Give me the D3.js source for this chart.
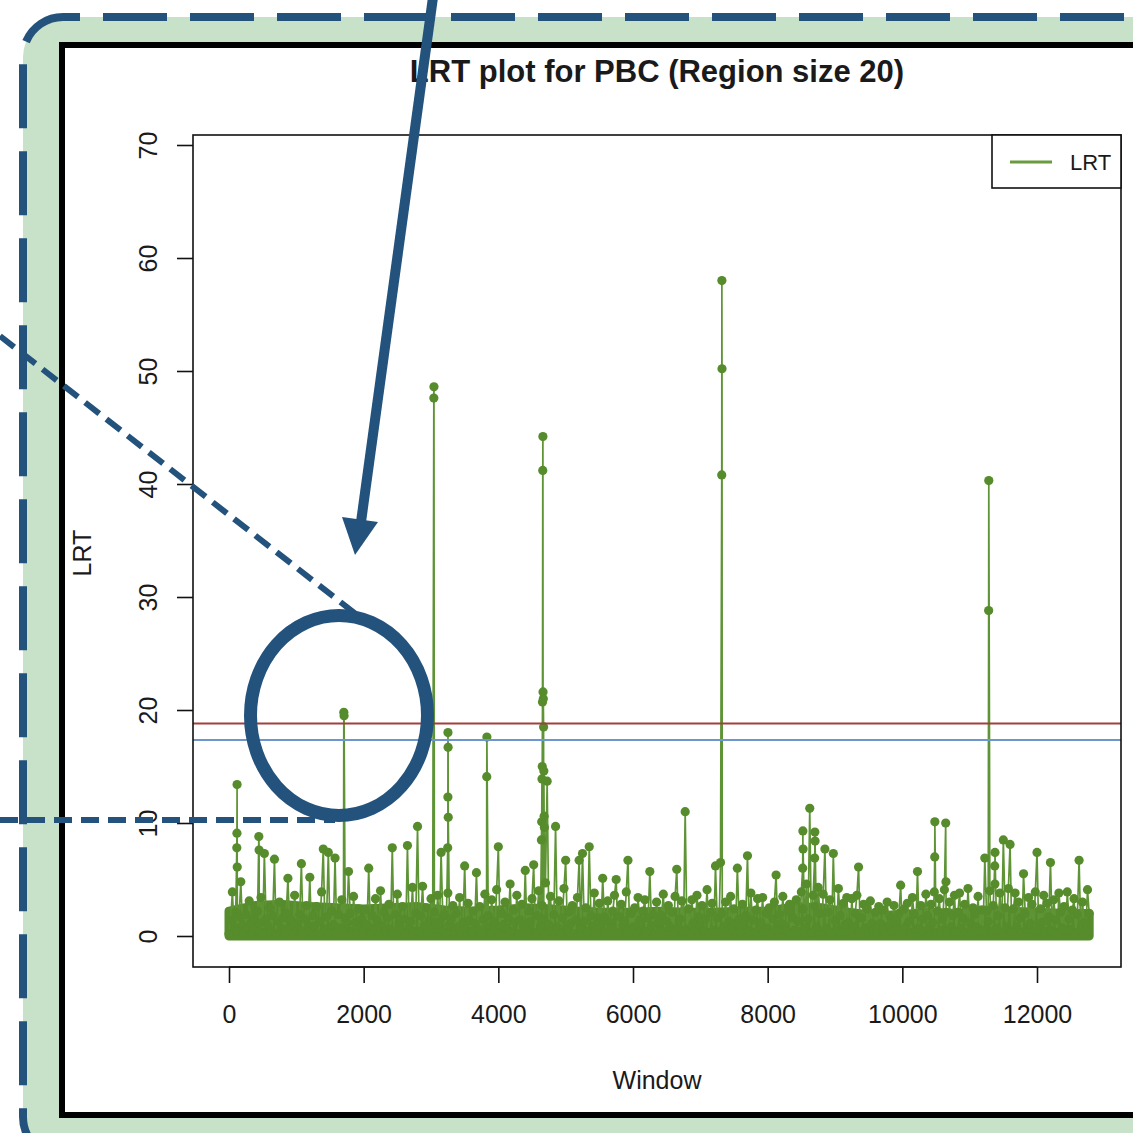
<!DOCTYPE html>
<meta charset="utf-8">
<style>
body { margin: 0; background: #fff; }
text { font-family: "Liberation Sans", Arial, sans-serif; fill: #1a1a1a; }
</style>
<body>
<div id="chart"></div>
<script src="https://d3js.org/d3.v7.min.js"></script>
<script>
// LRT, one value every 25 windows (window 0 .. 12775)
var windowStep = 25;
var lrtValues = [
  0.2, 1.4, 3.9, 0.8, 2.1, 0.5, 1.7, 4.8, 1.0, 0.3, 1.9, 0.7, 3.1, 1.2, 0.4, 1.6,
  0.6, 2.2, 1.1, 3.4, 0.3, 7.3, 1.5, 0.9, 2.5, 0.4, 1.8, 6.8, 0.2, 1.3, 3.0, 0.7,
  1.6, 0.3, 2.0, 5.1, 0.8, 1.4, 0.2, 3.6, 1.1, 0.5, 1.9, 6.4, 0.4, 1.5, 2.7, 0.9,
  5.2, 0.4, 1.8, 0.9, 2.6, 0.2, 1.3, 3.9, 7.7, 0.6, 1.7, 7.4, 0.3, 2.2, 1.0, 6.9,
  0.3, 1.9, 0.7, 3.2, 0.5, 1.6, 1.1, 5.7, 2.0, 0.4, 3.5, 1.2, 0.2, 2.4, 0.8, 1.5,
  0.5, 2.3, 1.0, 6.0, 0.3, 1.8, 0.7, 3.3, 1.4, 0.2, 4.0, 0.9, 2.1, 0.4, 1.6, 2.8,
  0.6, 7.8, 0.3, 1.9, 3.7, 1.1, 0.5, 2.6, 1.5, 0.2, 8.0, 0.8, 1.3, 4.3, 0.4, 2.0,
  9.7, 0.4, 1.8, 4.4, 0.9, 2.5, 0.2, 1.4, 3.3, 0.7, 2.1, 1.2, 3.6, 0.5, 7.4, 1.7,
  1.9, 0.3, 3.8, 1.0, 1.5, 2.7, 0.4, 2.0, 0.8, 3.4, 0.2, 1.2, 6.2, 0.6, 2.9, 1.4,
  0.4, 2.2, 1.1, 5.6, 0.6, 2.6, 0.2, 1.5, 3.7, 0.9, 1.8, 0.3, 3.2, 1.3, 0.7, 4.1,
  7.9, 0.3, 2.0, 1.0, 3.0, 0.6, 1.6, 4.6, 0.4, 2.3, 1.2, 3.6, 0.2, 1.4, 2.8, 0.8,
  5.8, 0.5, 2.2, 1.3, 3.3, 6.3, 0.3, 1.8, 4.0, 0.9, 2.7, 1.5, 4.7, 13.7, 1.0, 3.5,
  0.4, 1.9, 9.7, 0.8, 3.1, 0.3, 1.6, 4.2, 6.7, 0.6, 2.1, 1.1, 2.7, 0.2, 1.4, 3.4,
  6.7, 0.7, 7.3, 1.3, 2.5, 0.4, 7.9, 1.8, 0.9, 3.8, 0.3, 1.6, 2.9, 1.0, 5.1, 1.7,
  0.4, 3.1, 1.2, 0.7, 2.2, 3.6, 5.0, 0.3, 1.7, 2.8, 0.9, 1.3, 3.9, 6.7, 0.5, 2.0,
  0.8, 2.5, 0.3, 3.4, 1.4, 0.6, 2.2, 3.2, 0.4, 1.6, 5.7, 0.9, 1.9, 0.2, 3.0, 1.2,
  0.5, 1.8, 3.7, 0.4, 1.3, 2.7, 0.8, 2.1, 0.3, 3.5, 5.9, 0.7, 1.5, 3.1, 0.4, 11.0,
  0.6, 2.4, 0.3, 3.2, 1.2, 0.5, 3.6, 1.7, 0.9, 2.7, 0.4, 1.5, 4.1, 0.3, 2.1, 2.9,
  0.5, 6.2, 1.6, 0.4, 6.5, 2.0, 0.8, 3.0, 0.3, 1.3, 3.5, 0.7, 2.4, 1.1, 6.0, 1.5,
  0.4, 2.8, 1.0, 1.8, 7.1, 0.5, 3.8, 1.4, 0.3, 2.3, 3.3, 0.8, 1.2, 3.4, 0.4, 2.0,
  0.7, 2.5, 0.3, 1.5, 3.0, 5.4, 0.6, 1.9, 1.1, 3.5, 0.9, 0.4, 2.2, 2.8, 0.3, 1.6,
  0.5, 3.2, 1.3, 0.4, 3.9, 2.4, 0.7, 4.6, 1.5, 11.3, 0.3, 3.6, 2.6, 0.8, 4.3, 2.0,
  0.4, 3.7, 7.7, 0.7, 2.1, 3.2, 0.3, 7.3, 1.4, 0.6, 4.2, 1.8, 0.5, 2.9, 1.0, 3.4,
  1.2, 0.3, 3.3, 0.8, 2.0, 3.6, 6.1, 0.4, 1.6, 2.8, 0.7, 2.4, 0.3, 3.1, 1.1, 0.5,
  2.1, 0.4, 2.6, 1.1, 0.6, 2.3, 0.3, 3.0, 0.9, 1.7, 0.4, 2.7, 1.3, 0.6, 2.0, 4.5,
  0.4, 2.4, 0.8, 2.9, 1.3, 0.3, 3.4, 1.9, 0.6, 5.7, 0.7, 2.7, 1.5, 0.4, 3.7, 1.8,
  0.6, 2.8, 1.2, 3.9, 0.3, 2.2, 3.3, 0.5, 1.5, 4.1, 2.1, 0.4, 3.0, 0.8, 1.8, 3.6,
  0.4, 2.1, 3.8, 0.7, 1.6, 2.8, 0.3, 4.2, 1.2, 0.5, 2.5, 1.9, 0.8, 3.5, 0.4, 2.3,
  0.5, 6.9, 2.2, 1.3, 4.0, 0.4, 2.7, 4.6, 0.7, 1.8, 3.8, 0.3, 8.5, 2.5, 0.8, 4.2,
  8.1, 0.4, 2.4, 3.8, 0.8, 3.0, 1.6, 0.3, 5.5, 2.0, 0.6, 3.4, 1.1, 2.8, 0.4, 3.9,
  7.4, 0.6, 2.4, 1.2, 3.6, 0.4, 2.9, 1.7, 6.5, 0.5, 3.2, 1.4, 0.3, 3.8, 2.1, 0.7,
  2.6, 0.4, 3.9, 1.5, 0.6, 2.3, 3.3, 0.3, 1.9, 6.7, 0.5, 3.0, 1.2, 0.4, 4.1, 2.0
];

// stems carrying several points, windows and LRT
var peakWindows = [116, 118, 120, 122, 443, 447, 1705, 1709, 3042, 3044,
  3248, 3251, 3252, 3254, 3256, 3828, 3830,
  4640, 4644, 4648, 4652, 4656, 4660, 4662, 4664, 4668, 4672, 4676, 4680, 4684,
  7318, 7320, 7322, 8520, 8523, 8526, 8698, 8701, 8704,
  10481, 10483, 10644, 10648, 11282, 11284, 11372, 11376];
var peakValues = [7.8, 9.1, 13.4, 6.1, 8.8, 7.6, 19.8, 19.5, 47.6, 48.6,
  7.8, 12.3, 18.0, 16.7, 10.5, 14.1, 17.6,
  8.5, 10.1, 13.9, 15.0, 20.7, 41.2, 44.2, 21.6, 21.0, 18.5, 14.6, 10.6, 9.6,
  40.8, 58.0, 50.2, 6.0, 9.3, 7.7, 6.9, 9.2, 8.4,
  7.0, 10.1, 10.0, 4.8, 28.8, 40.3, 6.2, 7.4];

// level under which the thousands of points merge into a solid band (every 400 windows, last at 12775)
var bandWindows = d3.range(0, 12401, 400).concat([12775]);
var bandTop = [2.2, 2.7, 2.8, 2.6, 2.5, 2.4, 2.5, 2.6, 2.3, 2.2, 2.3, 2.5, 2.4, 2.2, 2.1, 2.1,
  2.2, 2.1, 2.1, 2.2, 2.2, 2.6, 2.5, 2.1, 1.8, 1.9, 2.1, 2.0, 2.3, 2.2, 2.1, 2.0, 2.0];

var thresholds = [18.8, 17.35];
var thresholdColors = ["#a23f3c", "#6d95cf"];
var xTicks = [0, 2000, 4000, 6000, 8000, 10000, 12000];
var yTicks = [0, 10, 20, 30, 40, 50, 60, 70];
var legendLabels = ["LRT"];

var W = 1133, H = 1133;
var box = {left: 193, top: 135, right: 1121, bottom: 967};
var blue = "#23527c";
var dotGreen = "#568c2b";

var points = lrtValues.map(function(v, i) { return {w: i * windowStep, v: v}; })
  .concat(peakWindows.map(function(w, i) { return {w: w, v: peakValues[i]}; }))
  .sort(function(a, b) { return a.w - b.w; });

var svg = d3.select("#chart").append("svg").attr("width", W).attr("height", H);

// green card with dashed border
svg.append("rect")
  .attr("x", 23).attr("y", 17).attr("width", 1200).attr("height", 1140)
  .attr("rx", 40).attr("ry", 40)
  .attr("fill", "#c8e1c9")
  .attr("stroke", blue).attr("stroke-width", 8)
  .attr("stroke-dasharray", "64 23").attr("stroke-dashoffset", -40);

// white panel with black frame
svg.append("rect")
  .attr("x", 62).attr("y", 45).attr("width", 1200).attr("height", 1070)
  .attr("fill", "#fff").attr("stroke", "#000").attr("stroke-width", 6);

var x = d3.scaleLinear().domain([0, 12000]).range([229, 1037]);
var y = d3.scaleLinear().domain([0, 70]).range([936, 145]);

svg.append("defs").append("clipPath").attr("id", "plotclip")
  .append("rect").attr("x", box.left).attr("y", box.top)
  .attr("width", box.right - box.left).attr("height", box.bottom - box.top);

var plot = svg.append("g").attr("clip-path", "url(#plotclip)");

var band = d3.area()
  .x(function(d, i) { return x(bandWindows[i]); })
  .y0(y(0))
  .y1(function(d) { return y(d); });

plot.append("path")
  .datum(bandTop)
  .attr("d", band)
  .attr("fill", dotGreen)
  .attr("stroke", dotGreen)
  .attr("stroke-width", 9)
  .attr("stroke-linejoin", "round");

var line = d3.line().x(function(d) { return x(d.w); }).y(function(d) { return y(d.v); });

plot.append("path")
  .datum(points)
  .attr("d", line)
  .attr("fill", "none")
  .attr("stroke", "#5f9436")
  .attr("stroke-width", 1.7);

plot.selectAll(".dot")
  .data(points)
  .enter().append("circle")
  .attr("class", "dot")
  .attr("cx", function(d) { return x(d.w); })
  .attr("cy", function(d) { return y(d.v); })
  .attr("r", 4.6)
  .attr("fill", dotGreen);

plot.selectAll(".thr")
  .data(thresholds)
  .enter().append("line")
  .attr("class", "thr")
  .attr("x1", box.left).attr("x2", box.right)
  .attr("y1", function(d) { return y(d); })
  .attr("y2", function(d) { return y(d); })
  .attr("stroke", function(d, i) { return thresholdColors[i]; })
  .attr("stroke-width", 2);

// plot box
svg.append("rect")
  .attr("x", box.left).attr("y", box.top)
  .attr("width", box.right - box.left).attr("height", box.bottom - box.top)
  .attr("fill", "none").attr("stroke", "#111").attr("stroke-width", 1.6);

// axes, R style
var xAxis = svg.append("g").attr("transform", "translate(0," + box.bottom + ")")
  .call(d3.axisBottom(x).tickValues(xTicks).tickSize(16).tickPadding(22).tickFormat(d3.format("d")));
xAxis.selectAll("text").style("font-size", "25px").attr("fill", "#1a1a1a");

var yAxis = svg.append("g").attr("transform", "translate(" + box.left + ",0)")
  .call(d3.axisLeft(y).tickValues(yTicks).tickSize(16).tickFormat(d3.format("d")));
yAxis.selectAll("text")
  .style("font-size", "25px").attr("fill", "#1a1a1a")
  .attr("text-anchor", "middle").attr("dy", 0).attr("x", 0)
  .attr("transform", "translate(-36,0) rotate(-90)");
svg.selectAll(".domain").remove();
svg.selectAll(".tick line").attr("stroke", "#111").attr("stroke-width", 1.6);
xAxis.append("line").attr("x1", x(0)).attr("x2", x(12000)).attr("stroke", "#111").attr("stroke-width", 1.6);

// titles
svg.append("text")
  .attr("x", 657).attr("y", 82)
  .attr("text-anchor", "middle")
  .style("font-size", "31px").style("font-weight", "bold")
  .text("LRT plot for PBC (Region size 20)");

svg.append("text")
  .attr("x", 657).attr("y", 1089)
  .attr("text-anchor", "middle")
  .style("font-size", "25px")
  .text("Window");

svg.append("text")
  .attr("transform", "translate(91,553) rotate(-90)")
  .attr("text-anchor", "middle")
  .style("font-size", "25px")
  .text("LRT");

// legend
var legend = svg.append("g");
legend.append("rect")
  .attr("x", 992).attr("y", box.top).attr("width", box.right - 992).attr("height", 53)
  .attr("fill", "#fff").attr("stroke", "#111").attr("stroke-width", 1.6);
legend.selectAll(".lg")
  .data(legendLabels)
  .enter().append("g").attr("class", "lg")
  .each(function(d) {
    var g = d3.select(this);
    g.append("line").attr("x1", 1010).attr("x2", 1052).attr("y1", 162).attr("y2", 162)
      .attr("stroke", "#6a9c3f").attr("stroke-width", 3);
    g.append("text").attr("x", 1070).attr("y", 170).style("font-size", "22px").text(d);
  });

// annotations drawn over the figure
svg.append("line")
  .attr("x1", 0).attr("y1", 336).attr("x2", 366).attr("y2", 622)
  .attr("stroke", blue).attr("stroke-width", 6).attr("stroke-dasharray", "18 9");
svg.append("line")
  .attr("x1", 0).attr("y1", 820).attr("x2", 335).attr("y2", 820)
  .attr("stroke", blue).attr("stroke-width", 6).attr("stroke-dasharray", "18 9");

svg.append("ellipse")
  .attr("cx", 339).attr("cy", 715.5).attr("rx", 88.5).attr("ry", 100)
  .attr("fill", "none").attr("stroke", blue).attr("stroke-width", 13);

svg.append("line")
  .attr("x1", 434).attr("y1", -10).attr("x2", 361).attr("y2", 522)
  .attr("stroke", blue).attr("stroke-width", 10);
svg.append("path")
  .attr("d", "M342,517 L378,522 L355,555 Z")
  .attr("fill", blue);
</script>
</body>
